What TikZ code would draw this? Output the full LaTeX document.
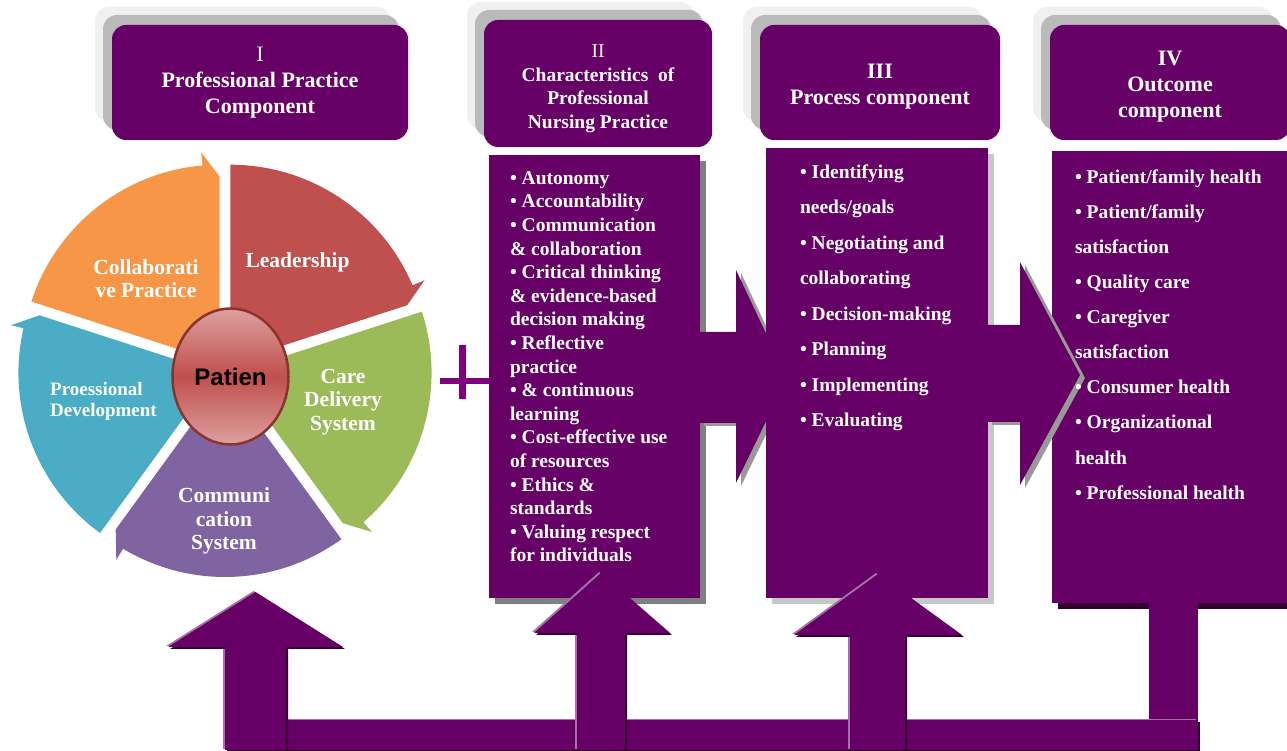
\documentclass[tikz,border=0pt]{standalone}
\usepackage{fontspec}
\setmainfont{Liberation Serif}
\newfontfamily\patfont{Liberation Sans}
\usetikzlibrary{positioning,shapes.geometric,shadows}

\definecolor{boxpurple}{HTML}{660066}
\definecolor{edgelight}{HTML}{A173A8}
\definecolor{edgedark}{HTML}{33002F}
\definecolor{pluspurple}{HTML}{800080}
\definecolor{leadred}{HTML}{C0504D}
\definecolor{caregreen}{HTML}{9BBB59}
\definecolor{commviolet}{HTML}{8064A2}
\definecolor{devblue}{HTML}{4BACC6}
\definecolor{collorange}{HTML}{F79646}
\definecolor{patlight}{HTML}{DDA09E}
\definecolor{patdark}{HTML}{8C3330}

\tikzset{
	headbox/.style={rounded corners=14pt, fill=boxpurple, text=white, align=center, inner sep=0pt,
		general shadow={fill=black!6, shadow xshift=-17pt, shadow yshift=18pt},
		general shadow={fill=black!27, shadow xshift=-9pt, shadow yshift=10pt}},
	listbox/.style={fill=boxpurple, inner sep=0pt,
		general shadow={fill=#1, shadow xshift=6pt, shadow yshift=-6pt}},
	listtext/.style={text=white, align=left, inner sep=0pt, font=\bfseries\fontsize{19.5}{#1}\selectfont},
	pielabel/.style={text=white, align=center, inner sep=0pt, font=\bfseries\fontsize{21.5}{23.5}\selectfont},
	bigarrow/.style={fill=boxpurple, general shadow={fill=black!40, shadow xshift=5pt, shadow yshift=-3pt}},
	uparrow/.style={fill=boxpurple,
		general shadow={fill=edgelight, shadow xshift=-2pt, shadow yshift=1pt},
		general shadow={fill=edgedark, shadow xshift=2pt, shadow yshift=-2pt}}
}

\begin{document}
\begin{tikzpicture}[x=1pt,y=1pt]
	\useasboundingbox (0,0) rectangle (1287,751);

	\node[headbox, minimum width=296, minimum height=115, font=\bfseries\fontsize{22}{26}\selectfont] (practice) at (260,668.5) {{\mdseries I}\\Professional Practice\\Component};
	\node[headbox, minimum width=228, minimum height=127, font=\bfseries\fontsize{19.5}{23.5}\selectfont] (character) at (598,667.5) {\rule{0pt}{23pt}{\mdseries II}\\Characteristics\enspace of\\Professional\\Nursing Practice};
	\node[headbox, minimum width=240, minimum height=115, font=\bfseries\fontsize{22}{26}\selectfont] (process) at (880,668.5) {\rule{0pt}{22.5pt}III\\Process component};
	\node[headbox, minimum width=240, minimum height=115, font=\bfseries\fontsize{22}{26}\selectfont] (outcome) at (1170,668.5) {\rule{0pt}{22.5pt}IV\\Outcome\\component};

	\begin{scope}[shift={(225,381)}]
		\foreach \a/\col in {90/leadred,18/caregreen,-54/commviolet,-126/devblue,162/collorange}
			\fill[\col, shift={(\a-36:9)}] (0,0) -- (\a:198) arc[start angle=\a, end angle=\a-67, radius=198] -- (\a-67:211) -- (\a-72:186) -- cycle;
	\end{scope}
	\node[ellipse, minimum width=116, minimum height=136, inner sep=0pt, top color=patlight, bottom color=patlight, middle color=leadred, draw=patdark, line width=2.5pt, font=\patfont\bfseries\fontsize{24}{24}\selectfont] (patient) at (230.5,374.5) {Patien};
	\node[pielabel] (lead) at (297.5,489) {Leadership};
	\node[pielabel] (collab) at (146,472.5) {Collaborati\\ve Practice};
	\node[pielabel] (care) at (343,349) {Care\\Delivery\\System};
	\node[pielabel] (comm) at (224,230) {Communi\\cation\\System};
	\node[pielabel, align=left, anchor=west, font=\bfseries\fontsize{19}{21}\selectfont] (profdev) at (50,349.5) {Proessional\\Development};

	\draw[pluspurple, line width=6.5pt] (440,370) -- (489,370);
	\draw[pluspurple, line width=6.5pt] (462.5,352) -- (462.5,406);

	\node[listbox=black!50, minimum width=211, minimum height=443] (charbox) at (594.5,374.5) {};
	\fill[bigarrow] (699,419) -- (736,419) -- (736,481) -- (787,373) -- (736,268) -- (736,328) -- (699,328) -- cycle;
	\node[listbox=black!22, minimum width=222, minimum height=450] (procbox) at (877,378) {};
	\node[listbox=edgedark, minimum width=238, minimum height=452] (outbox) at (1171,374) {};
	\fill[bigarrow] (987,426) -- (1020,426) -- (1020,489) -- (1080,376) -- (1020,266) -- (1020,329) -- (987,329) -- cycle;

	\fill[boxpurple] (1149,1) rectangle (1198,148);
	\fill[uparrow] (225,1) rectangle (1198,31);
	\fill[uparrow] (225,1) -- (225,104) -- (168,104) -- (255.5,159) -- (343,104) -- (286,104) -- (286,1) -- cycle;
	\fill[uparrow] (577,1) -- (577,118) -- (534,118) -- (601,178) -- (670,118) -- (625,118) -- (625,1) -- cycle;
	\fill[uparrow] (850,1) -- (850,116) -- (794,116) -- (878,177) -- (962,116) -- (905,116) -- (905,1) -- cycle;

	\node[listtext=23.6, below right=16.5pt and 21pt of charbox.north west] (charlist) {\textbullet{} Autonomy\\\textbullet{} Accountability\\\textbullet{} Communication\\\& collaboration\\\textbullet{} Critical thinking\\\& evidence-based\\decision making\\\textbullet{} Reflective\\practice\\\textbullet{} \& continuous\\learning\\\textbullet{} Cost-effective use\\of resources\\\textbullet{} Ethics \&\\standards\\\textbullet{} Valuing respect\\for individuals};
	\node[listtext=35.5, below right=16.5pt and 34pt of procbox.north west] (proclist) {\textbullet{} Identifying\\needs/goals\\\textbullet{} Negotiating and\\collaborating\\\textbullet{} Decision-making\\\textbullet{} Planning\\\textbullet{} Implementing\\\textbullet{} Evaluating};
	\node[listtext=35.1, below right=18.5pt and 23pt of outbox.north west] (outlist) {\textbullet{} Patient/family health\\\textbullet{} Patient/family\\satisfaction\\\textbullet{} Quality care\\\textbullet{} Caregiver\\satisfaction\\\textbullet{} Consumer health\\\textbullet{} Organizational\\health\\\textbullet{} Professional health};
\end{tikzpicture}
\end{document}
